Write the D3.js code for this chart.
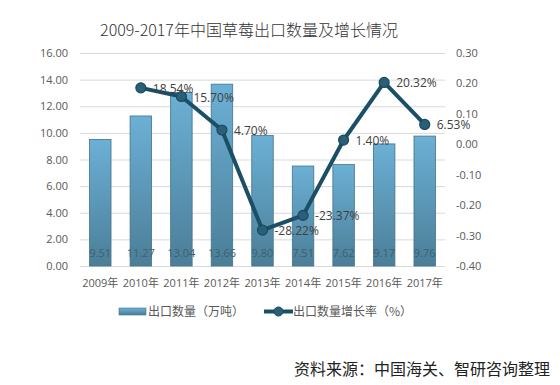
<!DOCTYPE html>
<html><head><meta charset="utf-8">
<script src="https://cdn.jsdelivr.net/npm/d3@7"></script>
<style>
html,body{margin:0;padding:0;background:#fff;}
svg{display:block;font-family:"Noto Sans CJK SC","Noto Sans",sans-serif;}
</style></head>
<body>
<svg id="chart" width="560" height="385"></svg>
<script>
const years = ["2009年","2010年","2011年","2012年","2013年","2014年","2015年","2016年","2017年"];
const volume = [9.51, 11.27, 13.04, 13.66, 9.80, 7.51, 7.62, 9.17, 9.76];
const growth = [null, 0.1854, 0.1570, 0.0470, -0.2822, -0.2337, 0.0140, 0.2032, 0.0653];
const leftTicks = [0, 2, 4, 6, 8, 10, 12, 14, 16];
const rightTicks = [-0.4, -0.3, -0.2, -0.1, 0, 0.1, 0.2, 0.3];
const title = "2009-2017年中国草莓出口数量及增长情况";
const legendLabels = ["出口数量（万吨）", "出口数量增长率（%）"];
const source = "资料来源：中国海关、智研咨询整理";

const svg = d3.select("#chart");
const L = 80, R = 445, T = 53, B = 266;

const x = d3.scaleBand().domain(years).range([L, R]).paddingInner(0.47).paddingOuter(0.235);
const y = d3.scaleLinear().domain([0, 16]).range([B, T]);
const y2 = d3.scaleLinear().domain([-0.4, 0.3]).range([B, T]);

const defs = svg.append("defs");
const g = defs.append("linearGradient").attr("id","barGrad").attr("x1",0).attr("y1",0).attr("x2",0).attr("y2",1);
g.append("stop").attr("offset","0%").attr("stop-color","#6cb0d5");
g.append("stop").attr("offset","100%").attr("stop-color","#4b7e97");

// title
svg.append("text").attr("x", 249).attr("y", 35.5).attr("text-anchor","middle")
  .attr("font-size", 16).attr("font-weight", 300).attr("fill","#333").text(title);

// gridlines
svg.append("g").attr("transform",`translate(${L},0)`)
  .call(d3.axisLeft(y).tickValues(leftTicks).tickSize(-(R-L)).tickFormat(""))
  .call(s => s.select(".domain").remove())
  .call(s => s.selectAll("line").attr("stroke","#d9d9d9").attr("stroke-width",1));

// left axis
svg.append("g").attr("transform",`translate(68,0)`)
  .call(d3.axisLeft(y).tickValues(leftTicks).tickSize(0).tickPadding(0).tickFormat(d => d.toFixed(2)))
  .call(s => s.select(".domain").remove())
  .call(s => s.selectAll("text").attr("fill","#595959").attr("font-size",11).attr("font-family","'Open Sans','Noto Sans',sans-serif"));

// right axis
svg.append("g").attr("transform",`translate(456,0)`)
  .call(d3.axisRight(y2).tickValues(rightTicks).tickSize(0).tickPadding(0).tickFormat(d => d.toFixed(2)))
  .call(s => s.select(".domain").remove())
  .call(s => s.selectAll("text").attr("fill","#595959").attr("font-size",11).attr("font-family","'Open Sans','Noto Sans',sans-serif"));

// bottom axis labels
svg.append("g").attr("transform",`translate(0,${B})`)
  .call(d3.axisBottom(x).tickSize(0).tickPadding(13))
  .call(s => s.select(".domain").remove())
  .call(s => s.selectAll("text").attr("fill","#595959").attr("font-size",11).attr("font-family","'Open Sans','Noto Sans CJK SC',sans-serif"));

// bars
svg.append("g").selectAll("rect").data(volume).join("rect")
  .attr("x",(d,i)=>x(years[i])).attr("y",d=>y(d))
  .attr("width",x.bandwidth()).attr("height",d=>B-y(d))
  .attr("fill","url(#barGrad)").attr("stroke","#41748c").attr("stroke-width",0.8);

// bar labels
svg.append("g").selectAll("text").data(volume).join("text")
  .attr("x",(d,i)=>x(years[i])+x.bandwidth()/2).attr("y",B-9)
  .attr("text-anchor","middle").attr("font-size",11).attr("fill","#3f5f72")
  .attr("font-family","'Open Sans','Noto Sans',sans-serif")
  .text(d=>d.toFixed(2));

// line
const pts = growth.map((d,i)=>({d, i})).filter(p=>p.d!==null);
const cx = p => x(years[p.i]) + x.bandwidth()/2;
svg.append("path").datum(pts)
  .attr("d", d3.line().x(cx).y(p=>y2(p.d)))
  .attr("fill","none").attr("stroke","#1b4f66").attr("stroke-width",4).attr("stroke-linejoin","round");
svg.append("g").selectAll("circle").data(pts).join("circle")
  .attr("cx",cx).attr("cy",p=>y2(p.d)).attr("r",5)
  .attr("fill","#2b5f76").attr("stroke","#174a5f").attr("stroke-width",1.2);

// percent labels
svg.append("g").selectAll("text").data(pts).join("text")
  .attr("x",p=>cx(p)+12).attr("y",p=>y2(p.d)+5)
  .attr("font-size",12).attr("fill","#404040")
  .attr("font-family","'Open Sans','Noto Sans',sans-serif")
  .text(p=>(p.d*100).toFixed(2)+"%");

// legend
const lg = svg.append("g");
lg.append("rect").attr("x",119).attr("y",308).attr("width",27).attr("height",7).attr("fill","url(#barGrad)").attr("stroke","#41748c").attr("stroke-width",0.6);
lg.append("text").attr("x",148).attr("y",316).attr("font-size",12).attr("fill","#595959").text(legendLabels[0]);
lg.append("line").attr("x1",264).attr("x2",293).attr("y1",311.5).attr("y2",311.5).attr("stroke","#1b4f66").attr("stroke-width",4);
lg.append("circle").attr("cx",278.5).attr("cy",311.5).attr("r",4.5).attr("fill","#2b5f76").attr("stroke","#174a5f");
lg.append("text").attr("x",293).attr("y",316).attr("font-size",12).attr("fill","#595959").text(legendLabels[1]);

// source
svg.append("text").attr("x",550).attr("y",374.5).attr("text-anchor","end")
  .attr("font-size",16).attr("fill","#222").text(source);
</script>
</body></html>
